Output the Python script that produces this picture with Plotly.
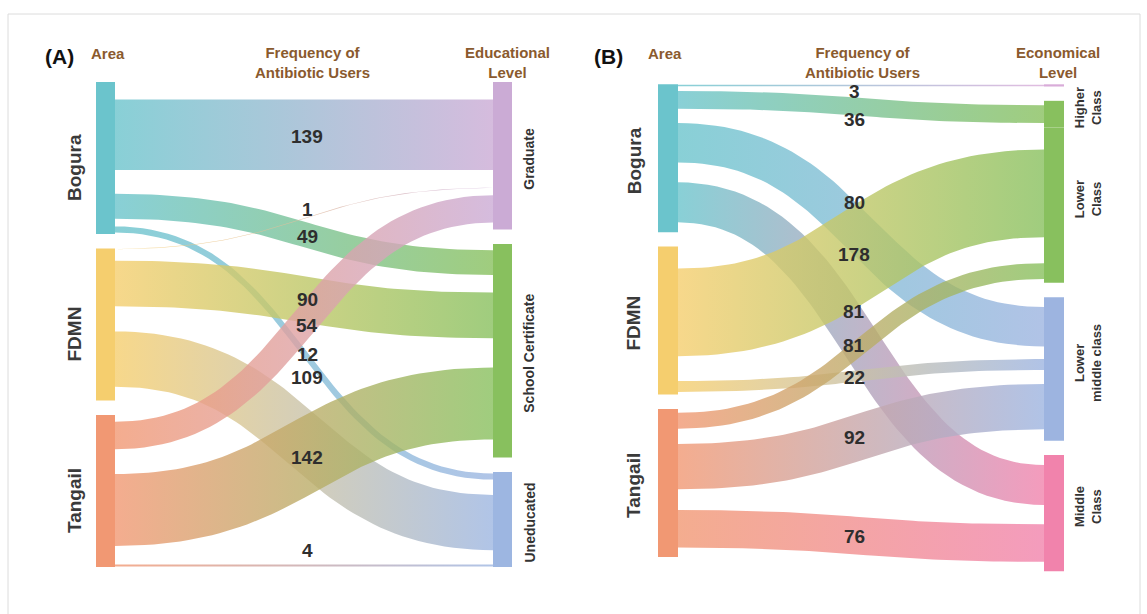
import numpy as np
import plotly.graph_objects as go

# ---------------- DATA ----------------
# Panel A: Area -> Educational level
A_sources = ["Bogura", "FDMN", "Tangail"]
A_targets = ["Graduate", "School Certificate", "Uneducated"]
A_link_src = ["Bogura", "Bogura", "Bogura", "FDMN", "FDMN", "FDMN", "Tangail", "Tangail", "Tangail"]
A_link_tgt = ["Graduate", "School Certificate", "Uneducated",
              "Graduate", "School Certificate", "Uneducated",
              "Graduate", "School Certificate", "Uneducated"]
A_values = [139, 49, 12, 1, 90, 109, 54, 142, 4]
A_text = ["139", "49", "12", "1", "90", "109", "54", "142", "4"]

# Panel B: Area -> Economical level
B_sources = ["Bogura", "FDMN", "Tangail"]
B_targets = ["Top", "Higher Class", "Lower Class", "Lower middle class", "Middle Class"]
B_target_labels = ["", "Higher<br>Class", "Lower<br>Class", "Lower<br>middle class", "Middle<br>Class"]
B_link_src = ["Bogura", "Bogura", "Bogura", "Bogura", "FDMN", "FDMN", "Tangail", "Tangail", "Tangail"]
B_link_tgt = ["Top", "Higher Class", "Lower middle class", "Middle Class",
              "Lower Class", "Lower middle class",
              "Lower Class", "Lower middle class", "Middle Class"]
B_values = [3, 36, 80, 81, 178, 22, 32, 92, 76]
B_text = ["3", "36", "80", "81", "178", "22", "81", "92", "76"]

# ---------------- STYLE / LAYOUT ----------------
W, H = 1147, 614
FONT = "Liberation Sans, Arial, Helvetica, sans-serif"
HEAD_COLOR = "#8A5A2E"

COL = {
    "Bogura": "#6BC4CC", "FDMN": "#F5CE6E", "Tangail": "#F19873",
    "Graduate": "#CBABD5", "School Certificate": "#88C05E", "Uneducated": "#9DB6E1",
    "Top": "#D9ACD9", "Higher Class": "#88C05E", "Lower Class": "#88C05E",
    "Lower middle class": "#9DB4E0", "Middle Class": "#F183AC",
}

panels = [
    dict(sources=A_sources, targets=A_targets, tlabels=A_targets,
         lsrc=A_link_src, ltgt=A_link_tgt, vals=A_values, text=A_text,
         xa="x", ya="y", src_px=115, tgt_px=493, node_w=19, top=82, k=0.76, pad=14.5,
         tgt_pad=[0, 1, 1],
         label_dy=[1.5, 2, 1, -8.5, 0.5, -63, 3, 1, -14.5], lab_dx=3,
         src_lab_dx=-22, src_lab_dy=10, tgt_lab_dx=36, tgt_lab_dy=3, tgt_font=14),
    dict(sources=B_sources, targets=B_targets, tlabels=B_target_labels,
         lsrc=B_link_src, ltgt=B_link_tgt, vals=B_values, text=B_text,
         xa="x2", ya="y2", src_px=678, tgt_px=1044, node_w=20, top=84.3, k=0.74, pad=14.3,
         tgt_pad=[0, 1, 0, 1, 1],
         label_dy=[6, 13, -32, -32, 2, 2, 0, 1, 1], lab_dx=-7,
         src_lab_dx=-24, src_lab_dy=3, tgt_lab_dx=44, tgt_lab_dy=-6, tgt_font=13),
]


def rgba(hexc, a):
    h = hexc.lstrip("#")
    return "rgba(%d,%d,%d,%s)" % (int(h[0:2], 16), int(h[2:4], 16), int(h[4:6], 16), a)


fig = go.Figure()
shapes = []
annotations = []
layout_axes = {}

for pi, p in enumerate(panels):
    k, pad = p["k"], p["pad"]
    span = p["tgt_px"] - p["src_px"]
    pad_u = pad / k
    vals = p["vals"]
    n = len(vals)

    src_tot = {s: sum(v for v, ls in zip(vals, p["lsrc"]) if ls == s) for s in p["sources"]}
    tgt_tot = {t: sum(v for v, lt in zip(vals, p["ltgt"]) if lt == t) for t in p["targets"]}

    # node positions (units, 0 = top)
    src_y0 = {}
    y = 0.0
    for i, s in enumerate(p["sources"]):
        if i > 0:
            y += pad_u
        src_y0[s] = y
        y += src_tot[s]
    tgt_y0 = {}
    y = 0.0
    for i, t in enumerate(p["targets"]):
        y += pad_u * p["tgt_pad"][i]
        tgt_y0[t] = y
        y += tgt_tot[t]

    # link slots
    s_order = sorted(range(n), key=lambda i: (p["sources"].index(p["lsrc"][i]), p["targets"].index(p["ltgt"][i])))
    t_order = sorted(range(n), key=lambda i: (p["targets"].index(p["ltgt"][i]), p["sources"].index(p["lsrc"][i])))
    s_center, t_center = {}, {}
    cur = dict(src_y0)
    for i in s_order:
        s = p["lsrc"][i]
        s_center[i] = cur[s] + vals[i] / 2
        cur[s] += vals[i]
    cur = dict(tgt_y0)
    for i in t_order:
        t = p["ltgt"][i]
        t_center[i] = cur[t] + vals[i] / 2
        cur[t] += vals[i]

    # axes
    xa_name = "xaxis" if p["xa"] == "x" else "xaxis2"
    ya_name = "yaxis" if p["ya"] == "y" else "yaxis2"
    layout_axes[xa_name] = dict(domain=[0, 1], range=[(0 - p["src_px"]) / span, (W - p["src_px"]) / span],
                                visible=False, fixedrange=True, anchor=p["ya"])
    layout_axes[ya_name] = dict(domain=[0, 1], range=[(H - p["top"]) / k, (0 - p["top"]) / k],
                                visible=False, fixedrange=True, anchor=p["xa"])

    # ribbons (bezier centerline, constant perpendicular thickness)
    t = np.linspace(0, 1, 60)
    for i in range(n):
        ys, yt = s_center[i], t_center[i]
        w_px = vals[i] * (2.0 / 3.0) * k
        # centerline in pixels
        x0, x1 = p["src_px"], p["tgt_px"]
        xm = (x0 + x1) / 2
        y0p, y1p = p["top"] + ys * k, p["top"] + yt * k
        b0, b1, b2, b3 = (1 - t) ** 3, 3 * (1 - t) ** 2 * t, 3 * (1 - t) * t ** 2, t ** 3
        cx = b0 * x0 + b1 * xm + b2 * xm + b3 * x1
        cy = (b0 + b1) * y0p + (b2 + b3) * y1p
        dx = 3 * (1 - t) ** 2 * (xm - x0) + 6 * (1 - t) * t * (xm - xm) + 3 * t ** 2 * (x1 - xm)
        dy = (6 * (1 - t) * t) * (y1p - y0p)
        nrm = np.sqrt(dx ** 2 + dy ** 2)
        nx, ny = -dy / nrm, dx / nrm
        topx, topy = cx + nx * w_px / 2, cy + ny * w_px / 2
        botx, boty = cx - nx * w_px / 2, cy - ny * w_px / 2
        px = np.concatenate([topx, botx[::-1], topx[:1]])
        py = np.concatenate([topy, boty[::-1], topy[:1]])
        ux = (px - p["src_px"]) / span
        uy = (py - p["top"]) / k
        c1, c2 = COL[p["lsrc"][i]], COL[p["ltgt"][i]]
        fig.add_trace(go.Scatter(
            x=ux, y=uy, xaxis=p["xa"], yaxis=p["ya"], mode="lines", fill="toself",
            line=dict(width=0), opacity=0.8, hoverinfo="skip", showlegend=False,
            fillcolor=c1,
            fillgradient=dict(type="horizontal", colorscale=[[0, c1], [1, c2]], start=0, stop=1),
        ))
        annotations.append(dict(
            x=0.5, y=(ys + yt) / 2, xref=p["xa"], yref=p["ya"], text="<b>%s</b>" % p["text"][i],
            showarrow=False, xanchor="center", yanchor="middle",
            xshift=p["lab_dx"], yshift=-p["label_dy"][i],
            font=dict(family=FONT, size=19, color="#2e2e2e"),
        ))

    nw = p["node_w"] / span
    for s in p["sources"]:
        shapes.append(dict(type="rect", xref=p["xa"], yref=p["ya"], x0=-nw, x1=0,
                           y0=src_y0[s], y1=src_y0[s] + src_tot[s], fillcolor=COL[s], line=dict(width=0)))
        annotations.append(dict(
            x=-nw, y=src_y0[s] + src_tot[s] / 2, xref=p["xa"], yref=p["ya"], text="<b>%s</b>" % s,
            textangle=-90, showarrow=False, xanchor="center", yanchor="middle",
            xshift=p["src_lab_dx"], yshift=-p["src_lab_dy"],
            font=dict(family=FONT, size=19, color="#3a3a3a"),
        ))
    for ti, tname in enumerate(p["targets"]):
        shapes.append(dict(type="rect", xref=p["xa"], yref=p["ya"], x0=1, x1=1 + nw,
                           y0=tgt_y0[tname], y1=tgt_y0[tname] + tgt_tot[tname], fillcolor=COL[tname],
                           line=dict(width=0)))
        lab = p["tlabels"][ti]
        if lab:
            annotations.append(dict(
                x=1, y=tgt_y0[tname] + tgt_tot[tname] / 2, xref=p["xa"], yref=p["ya"],
                text="<b>%s</b>" % lab, textangle=-90, showarrow=False,
                xanchor="center", yanchor="middle", xshift=p["tgt_lab_dx"], yshift=-p["tgt_lab_dy"],
                font=dict(family=FONT, size=p["tgt_font"], color="#333333"),
            ))

# headers
headers = [
    ("(A)", 60, 56, 21, "#111111"),
    ("Area", 108, 53.5, 15, HEAD_COLOR),
    ("Frequency of<br>Antibiotic Users", 312, 62.5, 15, HEAD_COLOR),
    ("Educational<br>Level", 507, 62.5, 15, HEAD_COLOR),
    ("(B)", 608, 56, 21, "#111111"),
    ("Area", 665, 53.5, 15, HEAD_COLOR),
    ("Frequency of<br>Antibiotic Users", 863, 62.5, 15, HEAD_COLOR),
    ("Economical<br>Level", 1058, 62.5, 15, HEAD_COLOR),
]
for txt, hx, hy, fs, fc in headers:
    annotations.append(dict(x=hx / W, y=1 - hy / H, xref="paper", yref="paper", text="<b>%s</b>" % txt,
                            showarrow=False, xanchor="center", yanchor="middle",
                            font=dict(family=FONT, size=fs, color=fc)))

# thin frame
shapes.append(dict(type="rect", xref="paper", yref="paper", x0=8 / W, x1=1140 / W, y0=-0.02, y1=1 - 14 / H,
                   line=dict(color="#dcdcdc", width=1), fillcolor="rgba(0,0,0,0)", layer="below"))

fig.update_layout(
    width=W, height=H, margin=dict(l=0, r=0, t=0, b=0),
    paper_bgcolor="white", plot_bgcolor="rgba(0,0,0,0)",
    shapes=shapes, annotations=annotations, showlegend=False,
    **layout_axes,
)

fig.write_html("out.html")
